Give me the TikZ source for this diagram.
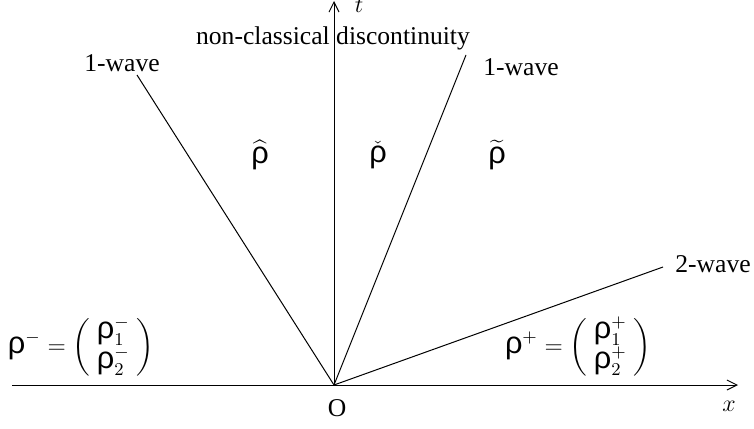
\documentclass[tikz,border=0pt]{standalone}
\usepackage{amsmath}
\usepackage{fontspec}
\setmainfont{Liberation Serif}
\newfontfamily\rhofont[Scale=1.2]{Liberation Sans}
\usetikzlibrary{arrows.meta,positioning}
\newcommand{\rh}{\mbox{\rhofont ρ}}
\newcommand{\colvec}[2]{\left(\;\begin{matrix}#1\\ #2\end{matrix}\;\right)}

\begin{document}
\begin{tikzpicture}[x=0.5pt, y=-0.5pt,
  font=\fontsize{12.8}{15}\selectfont, >={Straight Barb[length=5pt,width=5pt]},
  axis/.style={line width=0.5pt, ->},
  wave/.style={line width=0.5pt},
  lab/.style={inner sep=0pt}]
\useasboundingbox (0,0) rectangle (754,428);
\coordinate (O) at (334,385);
\coordinate (xl) at (12,385);
\coordinate (xr) at (738,385);
\coordinate (tt) at (334,1);
\coordinate (w1l) at (137,75);
\coordinate (w1r) at (466,55);
\coordinate (w2) at (663,267);
\draw[axis] (xl) -- (xr);
\draw[axis] (O) -- (tt);
\draw[wave] (O) -- (w1l);
\draw[wave] (O) -- (w1r);
\draw[wave] (O) -- (w2);
\node[lab] (xlab) at (729,406) {$x$};
\node[lab] (tlab) at (359,5) {$t$};
\node[lab] (olab) at (337,408) {O};
\node[lab] (ncd) at (333,38) {non-classical discontinuity};
\node[lab] (l1l) at (122,63) {1-wave};
\node[lab] (l1r) at (521,67) {1-wave};
\node[lab] (l2w) at (713,264) {2-wave};
\node[lab] (rhat) at (260,155) {$\widehat{\rh}$};
\node[lab] (rchk) at (378,155) {$\check{\rh}$};
\node[lab] (rtil) at (497,155) {$\widetilde{\rh}$};
\node[lab] (rmin) at (81,347) {$\rh^{-}=\colvec{\rh_1^{-}}{\rh_2^{-}}$};
\node[lab] (rpls) at (578,347) {$\rh^{+}=\colvec{\rh_1^{+}}{\rh_2^{+}}$};
\end{tikzpicture}
\end{document}
